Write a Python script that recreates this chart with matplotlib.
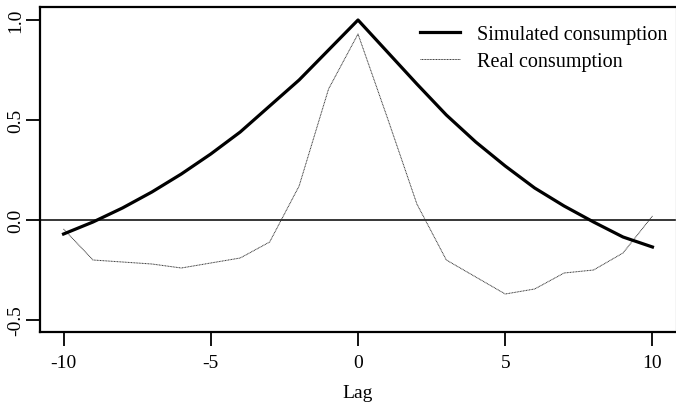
import matplotlib
matplotlib.use("Agg")
import matplotlib.pyplot as plt
import numpy as np

lags = list(range(-10, 11))
simulated = [-0.07, -0.01, 0.06, 0.14, 0.23, 0.33, 0.44, 0.57, 0.70, 0.85, 1.0,
             0.84, 0.68, 0.525, 0.39, 0.27, 0.16, 0.07, -0.01, -0.085, -0.135]
real = [-0.045, -0.20, -0.21, -0.22, -0.24, -0.215, -0.19, -0.11, 0.17, 0.655, 0.93,
        0.51, 0.08, -0.20, -0.285, -0.37, -0.345, -0.265, -0.25, -0.165, 0.02]
xticks = [-10, -5, 0, 5, 10]
yticks = [-0.5, 0.0, 0.5, 1.0]
ytick_labels = ["-0.5", "0.0", "0.5", "1.0"]

plt.rcParams['font.family'] = ['Liberation Serif', 'DejaVu Serif']

fig = plt.figure(figsize=(6.76, 4.06), dpi=100)
ax = fig.add_axes([40/676, (406-333)/406, (676-40)/676, (333-8)/406])

ax.axhline(0, color='black', lw=1.1, zorder=1)
ax.plot(lags, simulated, color='black', lw=2.3, label='Simulated consumption', zorder=3)
ax.plot(lags, real, color='#333333', lw=0.7, linestyle=(0, (1, 0.6)), label='Real consumption', zorder=2)

ax.set_xlim(-10.8, 10.8)
ax.set_ylim(-0.56, 1.065)
ax.set_xticks(xticks)
ax.set_xticklabels([str(t) for t in xticks])
ax.set_yticks(yticks)
ax.set_yticklabels(ytick_labels, rotation=90, va='center')
ax.tick_params(direction='out', length=10, width=1.3, labelsize=14)
ax.tick_params(axis='x', pad=6)
ax.tick_params(axis='y', pad=1.5)
for s in ['left', 'bottom', 'top']:
    ax.spines[s].set_linewidth(1.6)
ax.spines['right'].set_color('#cccccc')
ax.spines['right'].set_linewidth(1.0)
ax.set_xlabel('Lag', fontsize=14, labelpad=9)

ax.legend(loc='upper right', frameon=False, fontsize=14.5, handlelength=2.0,
          handletextpad=0.85, borderaxespad=0.0, labelspacing=0.42,
          bbox_to_anchor=(0.999, 0.97))

fig.savefig('out.png', dpi=100)
